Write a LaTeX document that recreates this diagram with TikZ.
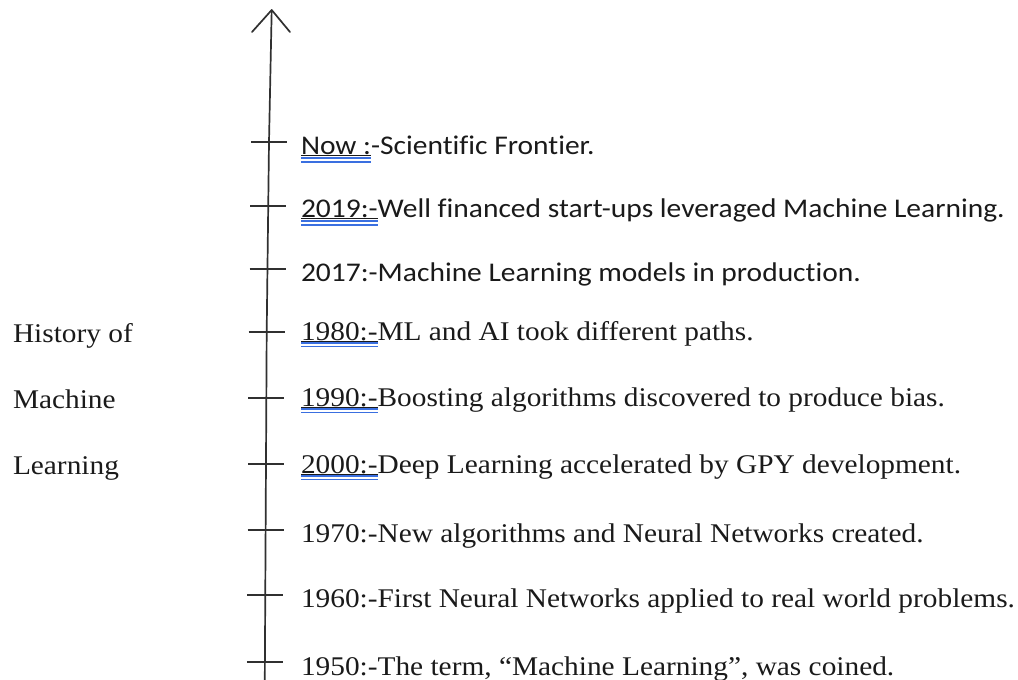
\documentclass[tikz,border=0pt]{standalone}
\usepackage{fontspec}
\newfontfamily\tnrfont{Liberation Serif}[FakeStretch=1.087,Ligatures=NoCommon]
\newfontfamily\calfont{Carlito}[FakeStretch=1.092,Ligatures=NoCommon]
\definecolor{ink}{HTML}{1A1A1A}
\definecolor{axisc}{HTML}{303030}
\definecolor{wblue}{HTML}{3A6FE0}
\begin{document}
\begin{tikzpicture}[x=1pt,y=-1pt,
  ser/.style={inner sep=0pt,outer sep=0pt,anchor=base west,text=ink,font={\tnrfont\fontsize{27}{32}\selectfont}},
  sans/.style={inner sep=0pt,outer sep=0pt,anchor=base west,text=ink,font={\calfont\fontsize{27}{32}\selectfont}},
  axisline/.style={draw=axisc,line width=1.7pt},
  tickline/.style={draw=axisc,line width=1.4pt},
  blueul/.style={draw=wblue,line width=1.1pt},
  blackul/.style={draw=ink,line width=0.8pt}]
\useasboundingbox (0,0) rectangle (1018,680);

% axis
\coordinate (apex) at (271.7,10);
\coordinate (wl) at (252,32);
\coordinate (wr) at (290,32);
\coordinate (a1) at (269,142);
\coordinate (a2) at (266.7,332);
\coordinate (abot) at (264.8,680);
\draw[axisline,line cap=round,line join=round] (wl) -- (apex) -- (wr);
\draw[axisline] (apex) -- (a1) -- (a2) -- (abot);

% ticks
\foreach \yy/\xx in {142/269.0,206/268.2,269/267.5,332/266.7,398/266.35,464/266.0,530/265.6,595/265.3,662/264.9}
  \draw[tickline] (\xx-18,\yy) -- (\xx+18,\yy);

% sans rows
\node[sans] (p1) at (301,154) {Now :};
\node[sans] (r1) at (p1.base east) {-Scientific Frontier.};
\node[sans] (p2) at (301,217) {2019:-};
\node[sans] (r2) at (p2.base east) {Well financed start-ups leveraged Machine Learning.};
\node[sans] (r3) at (301,281) {2017:-Machine Learning models in production.};

% serif rows
\node[ser] (p4) at (301,340) {1980:-};
\node[ser] (r4) at (p4.base east) {ML and AI took different paths.};
\node[ser] (p5) at (301,406) {1990:-};
\node[ser] (r5) at (p5.base east) {Boosting algorithms discovered to produce bias.};
\node[ser] (p6) at (301,473) {2000:-};
\node[ser] (r6) at (p6.base east) {Deep Learning accelerated by GPY development.};
\node[ser] (r7) at (301,542) {1970:-New algorithms and Neural Networks created.};
\node[ser] (r8) at (301,607) {1960:-First Neural Networks applied to real world problems.};
\node[ser] (r9) at (301,675) {1950:-The term, “Machine Learning”, was coined.};

% left label
\node[ser] (h1) at (13,342) {History of};
\node[ser] (h2) at (13,408) {Machine};
\node[ser] (h3) at (13,474) {Learning};

% underlines
\foreach \pp in {p1,p2}{
  \draw[blackul] ([yshift=-1.5pt]\pp.base west) -- ([yshift=-1.5pt]\pp.base east);
  \draw[blueul] ([yshift=-4pt]\pp.base west) -- ([yshift=-4pt]\pp.base east);
  \draw[blueul] ([yshift=-8pt]\pp.base west) -- ([yshift=-8pt]\pp.base east);
}
\foreach \pp in {p4,p5,p6}{
  \draw[blackul] ([yshift=-1pt]\pp.base west) -- ([yshift=-1pt]\pp.base east);
  \draw[blueul] ([yshift=-3pt]\pp.base west) -- ([yshift=-3pt]\pp.base east);
  \draw[blueul] ([yshift=-6.5pt]\pp.base west) -- ([yshift=-6.5pt]\pp.base east);
}
\end{tikzpicture}
\end{document}
